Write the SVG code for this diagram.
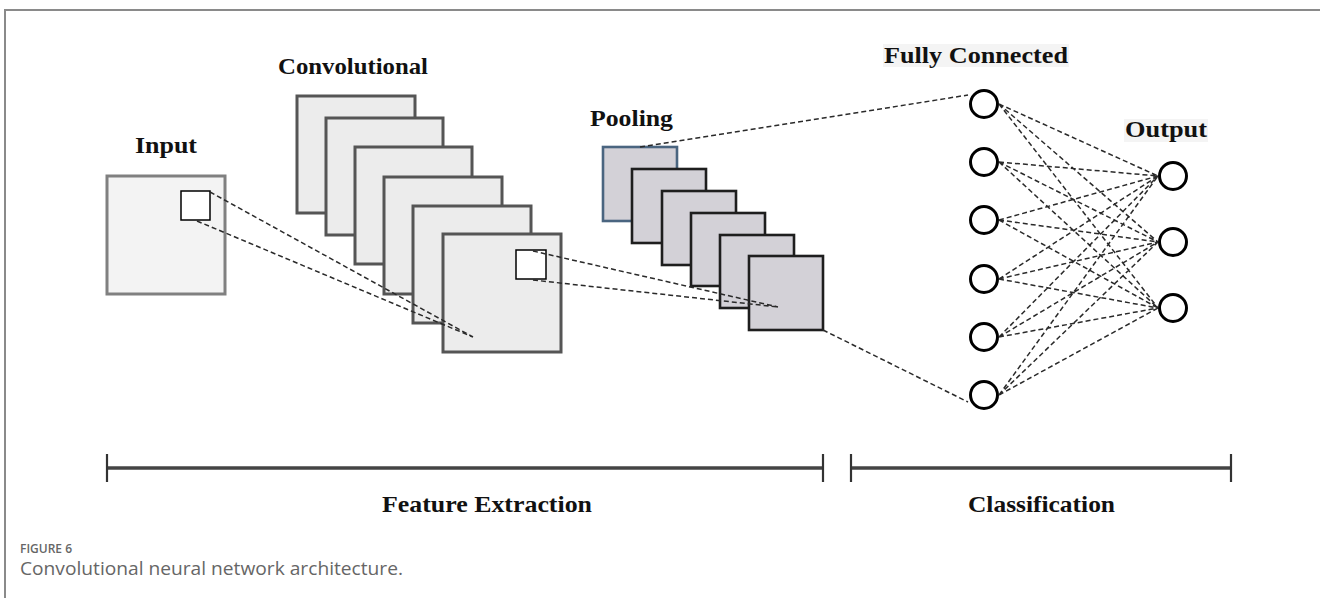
<svg xmlns="http://www.w3.org/2000/svg" width="1320" height="598" viewBox="0 0 1320 598">
<style>
.lbl{font-family:"Liberation Serif","Times New Roman",serif;font-weight:bold;font-size:24px;fill:#111}
.inp{fill:#f3f3f3;stroke:#808080;stroke-width:3}
.conv{fill:#ececec;stroke:#555;stroke-width:3}
.pool{fill:#d3d1d7;stroke:#1e1e1e;stroke-width:2.6}
.win{fill:#fff;stroke:#000;stroke-width:1.5}
.neu{fill:#fff;stroke:#000;stroke-width:3}
.dash{fill:none;stroke:#2a2a2a;stroke-width:1.5;stroke-dasharray:5 3}
.bar{stroke:#444;stroke-width:3.5}
.tick{stroke:#333;stroke-width:2.2}
.cap{font-family:"Open Sans",Lato,sans-serif;fill:#666}
</style>
<rect width="1320" height="598" fill="#fff"/>
<g id="frame" fill="none" stroke="#8a8a8a" stroke-width="2">
<path d="M5 598 V10 H1320"/>
</g>
<g id="input">
<rect class="inp" x="107" y="176" width="118" height="118"/>
<rect class="win" x="181" y="191" width="29" height="29"/>
<text class="lbl" x="135" y="153" textLength="62" lengthAdjust="spacingAndGlyphs">Input</text>
</g>
<g id="convolutional">
<text class="lbl" x="278" y="74" textLength="150" lengthAdjust="spacingAndGlyphs">Convolutional</text>
<rect class="conv" x="297" y="96" width="118" height="117"/>
<rect class="conv" x="326" y="118" width="117" height="117"/>
<rect class="conv" x="355" y="147" width="117" height="117"/>
<rect class="conv" x="384" y="177" width="118" height="117"/>
<rect class="conv" x="413" y="206" width="118" height="117"/>
<rect class="conv" x="443" y="234" width="118" height="118"/>
<rect class="win" x="516" y="250" width="30" height="29"/>
</g>
<g id="pooling">
<text class="lbl" x="590" y="126" textLength="83" lengthAdjust="spacingAndGlyphs">Pooling</text>
<rect class="pool" x="603" y="147" width="74" height="74" style="stroke:#4a6580"/>
<rect class="pool" x="632" y="169" width="74" height="74"/>
<rect class="pool" x="662" y="191" width="74" height="74"/>
<rect class="pool" x="691" y="213" width="74" height="73"/>
<rect class="pool" x="720" y="235" width="74" height="73"/>
<rect class="pool" x="749" y="256" width="74" height="74"/>
</g>
<g id="fully-connected">
<rect x="883" y="44" width="186" height="23" fill="#f4f4f4"/>
<text class="lbl" x="884" y="63" textLength="184" lengthAdjust="spacingAndGlyphs">Fully Connected</text>
<circle class="neu" cx="984" cy="104" r="13.5"/>
<circle class="neu" cx="984" cy="162" r="13.5"/>
<circle class="neu" cx="984" cy="220" r="13.5"/>
<circle class="neu" cx="984" cy="279" r="13.5"/>
<circle class="neu" cx="984" cy="337" r="13.5"/>
<circle class="neu" cx="984" cy="395" r="13.5"/>
</g>
<g id="output">
<rect x="1124" y="119" width="84" height="23" fill="#f4f4f4"/>
<text class="lbl" x="1125" y="137" textLength="82" lengthAdjust="spacingAndGlyphs">Output</text>
<circle class="neu" cx="1173" cy="176" r="13.5"/>
<circle class="neu" cx="1173" cy="242" r="13.5"/>
<circle class="neu" cx="1173" cy="308" r="13.5"/>
</g>
<g id="connectors">
<path class="dash" d="M210 192 L473 337 M197 221 L473 337"/>
<path class="dash" d="M533 251 L778 307 M533 280 L778 307"/>
<path class="dash" d="M640 147 L968 95"/>
<path class="dash" d="M823 330 L968 402"/>
<path class="dash" d="M999 104 L1158 176 M999 104 L1158 242 M999 104 L1158 308
M999 162 L1158 176 M999 162 L1158 242 M999 162 L1158 308
M999 220 L1158 176 M999 220 L1158 242 M999 220 L1158 308
M999 279 L1158 176 M999 279 L1158 242 M999 279 L1158 308
M999 337 L1158 176 M999 337 L1158 242 M999 337 L1158 308
M999 395 L1158 176 M999 395 L1158 242 M999 395 L1158 308"/>
</g>
<g id="feature-extraction">
<line class="bar" x1="107" y1="468" x2="823" y2="468"/>
<line class="tick" x1="107" y1="454" x2="107" y2="482"/>
<line class="tick" x1="823" y1="454" x2="823" y2="482"/>
<text class="lbl" x="382" y="512" textLength="210" lengthAdjust="spacingAndGlyphs">Feature Extraction</text>
</g>
<g id="classification">
<line class="bar" x1="851" y1="468" x2="1231" y2="468"/>
<line class="tick" x1="851" y1="454" x2="851" y2="482"/>
<line class="tick" x1="1231" y1="454" x2="1231" y2="482"/>
<text class="lbl" x="968" y="512" textLength="147" lengthAdjust="spacingAndGlyphs">Classification</text>
</g>
<g id="caption">
<text class="cap" x="20" y="553" font-size="12.5" font-weight="600" fill="#777" textLength="52" lengthAdjust="spacingAndGlyphs">FIGURE 6</text>
<text class="cap" x="20" y="575" font-size="18" fill="#555" textLength="383" lengthAdjust="spacingAndGlyphs">Convolutional neural network architecture.</text>
</g>
</svg>
